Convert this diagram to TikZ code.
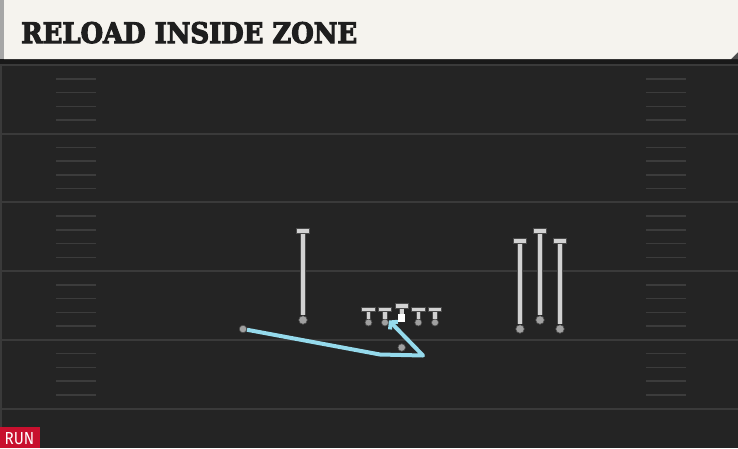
\documentclass[tikz,border=0pt]{standalone}
\usepackage{fontspec}
\usepackage{tikz}
\usetikzlibrary{arrows.meta,positioning}
\setmainfont{DejaVu Serif}
\newfontfamily\titlefont[BoldFeatures={FakeBold=4}]{DejaVu Serif}
\newfontfamily\badgefont{Fira Sans}

\definecolor{field}{HTML}{242424}
\definecolor{yardline}{HTML}{3A3A3A}
\definecolor{hashline}{HTML}{3C3C3C}
\definecolor{headbg}{HTML}{F5F3EE}
\definecolor{headtxt}{HTML}{1E1E1E}
\definecolor{runred}{HTML}{C8102E}
\definecolor{routegray}{HTML}{D2D2D2}
\definecolor{edgegray}{HTML}{4A4A4A}
\definecolor{dotgray}{HTML}{A0A0A0}
\definecolor{rbblue}{HTML}{95DAEC}

\tikzset{
  player/.style={circle, fill=dotgray, draw=edgegray, line width=0.6pt, inner sep=0pt, minimum size=8.5pt},
  lineman/.style={player, minimum size=7pt},
  tee/.style={rectangle, fill=routegray, draw=edgegray, line width=0.6pt, inner sep=0pt, minimum width=13.5pt, minimum height=4.5pt},
  ball/.style={rectangle, fill=white, inner sep=0pt, minimum size=7.5pt},
  block/.style={draw=edgegray, line width=0.8pt, double=routegray, double distance=3.6pt},
  carry/.style={draw=rbblue, line width=4pt, line join=round, -{Straight Barb[length=4.5pt,width=11pt]}},
}

\begin{document}
\begin{tikzpicture}[x=1pt,y=-1pt,node distance=13pt,on grid]
  \useasboundingbox (0,0) rectangle (738,448);
  % field
  \fill[field] (0,0) rectangle (738,448);
  \draw[yardline, line width=1.5pt] (1,63) -- (1,448);
  \foreach \k in {0,...,5}
    \draw[yardline, line width=2pt] (0,65+68.74*\k) -- (738,65+68.74*\k);
  \foreach \k in {0,...,4}
    \foreach \j in {1,...,4}{
      \draw[hashline, line width=1.5pt] (56,65+68.74*\k+13.75*\j) -- (96,65+68.74*\k+13.75*\j);
      \draw[hashline, line width=1.5pt] (646,65+68.74*\k+13.75*\j) -- (686,65+68.74*\k+13.75*\j);
    }

  % header
  \fill[black!90] (0,59) rectangle (738,63.5);
  \fill[black!70] (731,59) -- (738,52) -- (738,59) -- cycle;
  \fill[headbg] (4,0) -- (738,0) -- (738,52) -- (731,59) -- (4,59) -- cycle;
  \fill[black!35] (0,0) rectangle (4,59);
  \node[anchor=base west, inner sep=0pt, text=headtxt] (title) at (21,43)
    {\resizebox{336pt}{21pt}{\titlefont\bfseries RELOAD INSIDE ZONE}};

  % receivers
  \node[player] (wr_l) at (303,320) {};
  \node[tee] (wr_lt) [above=89pt of wr_l] {};
  \node[player] (wr_r1) at (520,329) {};
  \node[tee] (wr_r1t) [above=88pt of wr_r1] {};
  \node[player] (wr_r2) at (540,320) {};
  \node[tee] (wr_r2t) [above=89pt of wr_r2] {};
  \node[player] (wr_r3) at (560,329) {};
  \node[tee] (wr_r3t) [above=88pt of wr_r3] {};

  % line
  \node[lineman] (lt) at (368.5,322.5) {};
  \node[lineman] (lg) [right=16.5pt of lt] {};
  \node[ball] (c) [above right=4.5pt and 16.7pt of lg] {};
  \node[lineman] (rg) [right=33.3pt of lg] {};
  \node[lineman] (rt) [right=16.7pt of rg] {};
  \node[tee] (lt_t) [above=of lt] {};
  \node[tee] (lg_t) [above=of lg] {};
  \node[tee] (c_t) [above=12pt of c] {};
  \node[tee] (rg_t) [above=of rg] {};
  \node[tee] (rt_t) [above=of rt] {};

  % backs
  \node[player, minimum size=7.5pt] (qb) [below=29.5pt of c] {};
  \node[player, minimum size=7.5pt] (rb) at (243,329) {};
  \coordinate (rb_1) at (380,354.5);
  \coordinate (rb_2) at (423,355.5);
  \coordinate (hole) at (389,320.5);

  \draw[block] (wr_l) -- (wr_lt);
  \draw[block] (wr_r1) -- (wr_r1t);
  \draw[block] (wr_r2) -- (wr_r2t);
  \draw[block] (wr_r3) -- (wr_r3t);
  \draw[block] (lt) -- (lt_t);
  \draw[block] (lg) -- (lg_t);
  \draw[block] (c) -- (c_t);
  \draw[block] (rg) -- (rg_t);
  \draw[block] (rt) -- (rt_t);
  \draw[carry] (rb) -- (rb_1) -- (rb_2) -- (hole);

  % badge
  \node[fill=runred, anchor=south west, minimum width=40pt, minimum height=20.5pt, inner sep=0pt] (badge) at (0,448) {};
  \node[anchor=base west, inner sep=0pt, text=white] (run) at (4.5,444.5)
    {\resizebox{29.5pt}{12pt}{\badgefont RUN}};
\end{tikzpicture}
\end{document}
